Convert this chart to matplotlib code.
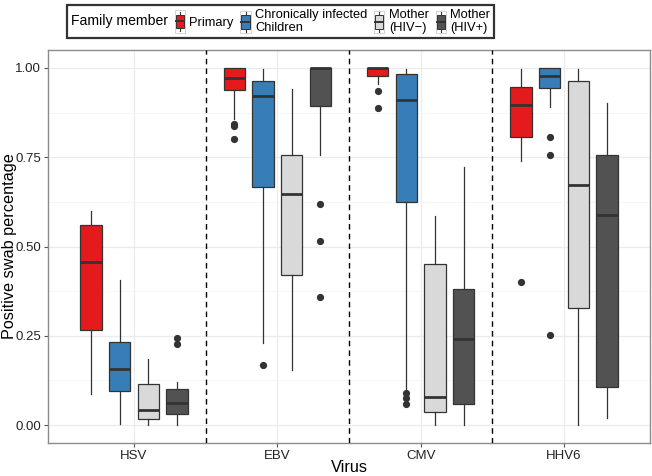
import matplotlib
matplotlib.use("Agg")
import matplotlib.pyplot as plt
from matplotlib.legend_handler import HandlerBase
from matplotlib.patches import Rectangle
from matplotlib.lines import Line2D

plt.rcParams["font.family"] = ["Liberation Sans", "DejaVu Sans"]

viruses = ["HSV", "EBV", "CMV", "HHV6"]
groups = ["Primary", "Chronically infected\nChildren", "Mother\n(HIV\u2212)", "Mother\n(HIV+)"]
group_colors = ["#E41A1C", "#377EB8", "#D9D9D9", "#525252"]

# per virus: one row per group -> (whislo, q1, med, q3, whishi)
hsv_stats = [(0.088, 0.265, 0.458, 0.560, 0.599),
             (0.002, 0.095, 0.157, 0.232, 0.407),
             (0.000, 0.018, 0.043, 0.115, 0.185),
             (0.000, 0.030, 0.062, 0.100, 0.122)]
hsv_fliers = [[], [], [], [0.244, 0.228]]

ebv_stats = [(0.858, 0.937, 0.973, 1.000, 1.000),
             (0.230, 0.667, 0.921, 0.962, 0.997),
             (0.153, 0.420, 0.646, 0.757, 0.941),
             (0.755, 0.893, 1.000, 1.000, 1.000)]
ebv_fliers = [[0.844, 0.836, 0.800], [0.167], [], [0.620, 0.516, 0.359]]

cmv_stats = [(0.955, 0.976, 1.000, 1.000, 1.000),
             (0.100, 0.625, 0.909, 0.983, 0.998),
             (0.000, 0.036, 0.078, 0.450, 0.586),
             (0.000, 0.058, 0.241, 0.381, 0.723)]
cmv_fliers = [[0.935, 0.887], [0.090, 0.075, 0.058], [], []]

hhv6_stats = [(0.739, 0.806, 0.897, 0.946, 0.997),
              (0.890, 0.944, 0.977, 1.000, 1.000),
              (0.000, 0.329, 0.672, 0.962, 0.997),
              (0.021, 0.107, 0.588, 0.757, 0.902)]
hhv6_fliers = [[0.400], [0.806, 0.757, 0.251], [], []]

all_stats = [hsv_stats, ebv_stats, cmv_stats, hhv6_stats]
all_fliers = [hsv_fliers, ebv_fliers, cmv_fliers, hhv6_fliers]

edge = "#333333"
offsets = [-0.3, -0.1, 0.1, 0.3]

fig = plt.figure(figsize=(6.52, 4.76), dpi=100)
ax = fig.add_axes([48 / 652, 33 / 476, 602 / 652, 393 / 476])

for vi, (stats, fliers) in enumerate(zip(all_stats, all_fliers)):
    for gi, (s, fl) in enumerate(zip(stats, fliers)):
        d = dict(whislo=s[0], q1=s[1], med=s[2], q3=s[3], whishi=s[4], fliers=fl)
        ax.bxp([d], positions=[vi + 1 + offsets[gi]], widths=0.15, patch_artist=True,
               showcaps=False, manage_ticks=False,
               boxprops=dict(facecolor=group_colors[gi], edgecolor=edge, lw=0.9),
               medianprops=dict(color=edge, lw=2.0),
               whiskerprops=dict(color=edge, lw=0.9),
               flierprops=dict(marker="o", markersize=4.2, markerfacecolor=edge,
                               markeredgecolor=edge))

for xv in [1.5, 2.5, 3.5]:
    ax.axvline(xv, color="black", lw=1.0, ls=(0, (4, 3)), zorder=3)

# grid / ticks
ax.set_yticks([0, 0.25, 0.5, 0.75, 1.0])
ax.set_yticks([0.125, 0.375, 0.625, 0.875], minor=True)
ax.set_yticklabels(["0.00", "0.25", "0.50", "0.75", "1.00"])
ax.set_xticks(range(1, len(viruses) + 1))
ax.set_xticklabels(viruses)
ax.grid(True, which="major", color="#EBEBEB", lw=0.9)
ax.grid(True, which="minor", axis="y", color="#F5F5F5", lw=0.6)
ax.set_axisbelow(True)

ax.set_xlim(0.4, 4.6)
ax.set_ylim(-0.05, 1.05)
for sp in ax.spines.values():
    sp.set_color("#8C8C8C")
    sp.set_linewidth(1.0)
ax.tick_params(axis="both", which="major", color="#555555", length=3, labelsize=9.5,
               labelcolor="#222222", pad=2)
ax.tick_params(axis="both", which="minor", length=0)
ax.set_xlabel("Virus", fontsize=11.7)
ax.set_ylabel("Positive swab percentage", fontsize=11.7)
ax.xaxis.set_label_coords(0.5, -0.042)
ax.yaxis.set_label_coords(-0.052, 0.5)


class BoxKey(HandlerBase):
    def create_artists(self, legend, orig_handle, xdescent, ydescent, width, height,
                       fontsize, trans):
        x0, y0 = -xdescent, -ydescent
        cx = x0 + width / 2
        bg = Rectangle((x0, y0), width, height, fc="white", ec="#CCCCCC", lw=0.6,
                       transform=trans)
        wh = Line2D([cx, cx], [y0 + height * 0.06, y0 + height * 0.94], color=edge,
                    lw=0.8, transform=trans)
        bx = Rectangle((x0 + width * 0.1, y0 + height * 0.2), width * 0.8, height * 0.6,
                       fc=orig_handle, ec=edge, lw=0.7, transform=trans)
        md = Line2D([x0 + width * 0.1, x0 + width * 0.9], [y0 + height / 2] * 2,
                    color=edge, lw=1.4, transform=trans)
        return [bg, wh, bx, md]


leg = fig.legend(group_colors, groups, handler_map={str: BoxKey()},
                 ncol=4, title="Family member", loc="center",
                 bbox_to_anchor=(280.5 / 652, 1 - 21.5 / 476),
                 fontsize=9.3, title_fontsize=10.1, handlelength=0.78, handleheight=2.3,
                 handletextpad=0.35, columnspacing=0.3, borderpad=0.25,
                 labelspacing=0.2, fancybox=False, frameon=True)
leg.get_frame().set_edgecolor("black")
leg.get_frame().set_linewidth(1.6)

# put legend title to the left of the keys
vbox = leg.get_children()[0]
title_box = vbox.get_children()[0]
hbox = vbox.get_children()[1]
vbox._children = [hbox]
hbox._children = [title_box] + hbox.get_children()
hbox.align = "center"
hbox.sep = 5

fig.savefig("out.png", dpi=100)
